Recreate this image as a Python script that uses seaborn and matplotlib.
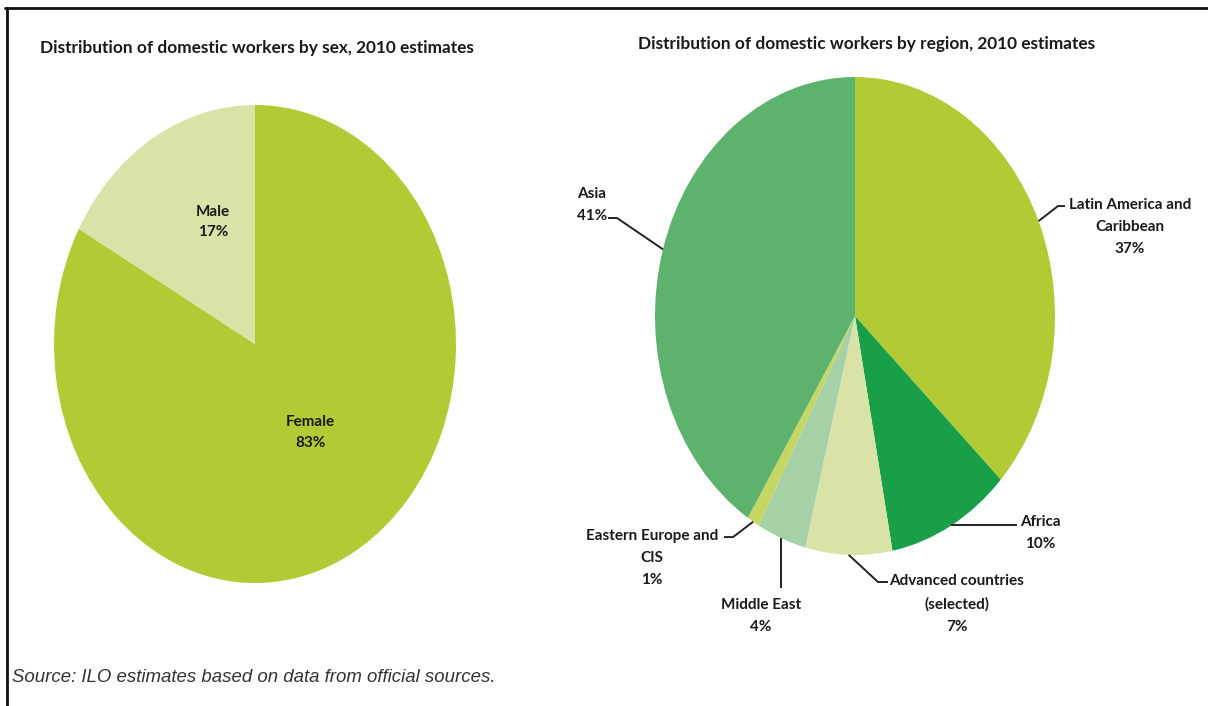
import numpy as np
import matplotlib
matplotlib.use("Agg")
import matplotlib.pyplot as plt
from matplotlib.lines import Line2D
import seaborn as sns

# data
sex_labels = ["Female", "Male"]
sex_share = [83, 17]
sex_colors = ["#B2CB35", "#D9E3A7"]

region_labels = ["Latin America and\nCaribbean", "Africa", "Advanced countries\n(selected)",
                 "Middle East", "Eastern Europe and\nCIS", "Asia"]
region_share = [37, 10, 7, 4, 1, 41]
region_colors = ["#B2CB35", "#189F48", "#D9E3A7", "#A6D1A6", "#C5D662", "#5DB36E"]

sns.set_theme(style="white")
LABEL_FONT = ["Liberation Sans Narrow", "Lato", "DejaVu Sans"]
plt.rcParams["font.family"] = LABEL_FONT

W, H = 1208, 706
fig = plt.figure(figsize=(W / 100, H / 100), dpi=100)


def box(x0, y0, x1, y1):
    # pixel box (top-down) -> figure fraction rect
    return [x0 / W, (H - y1) / H, (x1 - x0) / W, (y1 - y0) / H]


def draw_pie(ax, values, colors):
    wedges, _ = ax.pie(values, colors=sns.color_palette(colors), startangle=90,
                       counterclock=False, radius=1,
                       wedgeprops=dict(linewidth=0, antialiased=True))
    ax.set_aspect("auto")
    ax.set_xlim(-1, 1)
    ax.set_ylim(-1, 1)
    ax.axis("off")
    return wedges


def mid_point(w):
    a = np.deg2rad((w.theta1 + w.theta2) / 2)
    return np.cos(a), np.sin(a)


# left pie: by sex
ax1 = fig.add_axes(box(54, 105, 456, 583))
draw_pie(ax1, sex_share, sex_colors)
lab_pos = {"Female": (0.274, -0.37), "Male": (-0.209, 0.51)}
for lab, val in zip(sex_labels, sex_share):
    x, y = lab_pos[lab]
    ax1.text(x, y, f"{lab}\n{val}%", ha="center", va="center", fontsize=11,
             fontweight="bold", color="#1a1a1a", linespacing=1.6)

# right pie: by region
ax2 = fig.add_axes(box(655, 77, 1055, 555))
wedges = draw_pie(ax2, region_share, region_colors)

# (elbow, line end, text pos, ha) in data units
leaders = [
    ((1.015, 0.46), (1.05, 0.46), (1.375, 0.372), "center"),
    (None, (0.81, -0.874), (0.925, -0.908), "center"),
    ((0.115, -1.113), (0.165, -1.113), (0.51, -1.205), "center"),
    ((-0.365, -1.138), None, (-0.47, -1.255), "center"),
    ((-0.61, -0.925), (-0.655, -0.925), (-1.015, -1.013), "center"),
    ((-1.19, 0.41), (-1.235, 0.41), (-1.39, 0.464), "left"),
]
for w, lab, val, (elbow, end, tpos, ha) in zip(wedges, region_labels, region_share, leaders):
    ax_, ay_ = mid_point(w)
    xs, ys = [ax_], [ay_]
    if elbow is not None:
        if lab == "Middle East":
            elbow = (ax_, elbow[1])
        xs.append(elbow[0]); ys.append(elbow[1])
    if end is not None:
        if elbow is None:
            end = (end[0], ay_)
        xs.append(end[0]); ys.append(end[1])
    ax2.plot(xs, ys, color="#222222", lw=1.4, clip_on=False, solid_capstyle="butt")
    ax2.text(tpos[0], tpos[1], f"{lab}\n{val}%", ha=ha, va="center", fontsize=11,
             fontweight="bold", color="#1a1a1a", linespacing=1.75,
             multialignment="left" if ha == "left" else "center")

# titles
fig.text(40 / W, 1 - 48 / H, "Distribution of domestic workers by sex, 2010 estimates",
         fontsize=12.4, fontweight="bold", color="#1a1a1a", va="center", ha="left")
fig.text(638 / W, 1 - 44 / H, "Distribution of domestic workers by region, 2010 estimates",
         fontsize=12.4, fontweight="bold", color="#1a1a1a", va="center", ha="left")

# source note
fig.text(12 / W, 1 - 678 / H, "Source: ILO estimates based on data from official sources.",
         fontsize=13.4, style="italic", color="#333333", va="center", ha="left",
         family=["Liberation Sans", "DejaVu Sans"])

# frame lines (top and left)
fig.add_artist(Line2D([5 / W, 1], [1 - 8 / H, 1 - 8 / H], color="#111111", lw=2,
                      transform=fig.transFigure))
fig.add_artist(Line2D([7 / W, 7 / W], [0, 1 - 8 / H], color="#111111", lw=2,
                      transform=fig.transFigure))

fig.savefig("out.png", dpi=100, facecolor="white")
